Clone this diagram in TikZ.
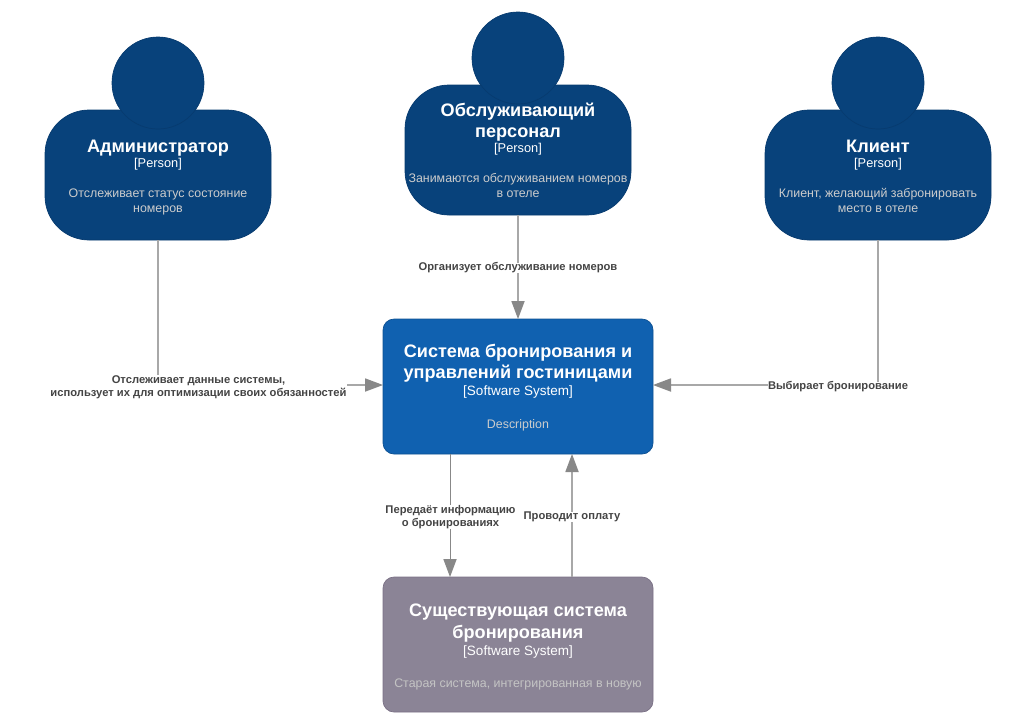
\documentclass[tikz,border=0pt]{standalone}
\usepackage{fontspec}
\setmainfont{Liberation Sans}
\usetikzlibrary{arrows.meta}
\definecolor{persona}{HTML}{08427B}
\definecolor{personb}{HTML}{073B6F}
\definecolor{sysfill}{HTML}{1061B0}
\definecolor{sysline}{HTML}{0D5091}
\definecolor{extfill}{HTML}{8B8496}
\definecolor{extline}{HTML}{7A7085}
\definecolor{descA}{HTML}{CCCCCC}
\definecolor{descB}{HTML}{C4C4C4}
\definecolor{reltext}{HTML}{444444}
\definecolor{relline}{HTML}{A8A8A8}
\definecolor{relhead}{HTML}{888888}
\tikzset{
  x=1pt,y=-1pt,
  personbody/.style={draw=personb,line width=.7pt,fill=persona,rounded corners=44pt,minimum width=226pt,minimum height=130pt,inner sep=0pt,outer sep=0pt},
  personhead/.style={circle,draw=personb,line width=.7pt,fill=persona,minimum size=92pt,inner sep=0pt,outer sep=0pt},
  sysbox/.style={draw=sysline,line width=.7pt,fill=sysfill,rounded corners=11pt,minimum width=270pt,minimum height=135pt,inner sep=0pt,outer sep=0pt},
  extbox/.style={draw=extline,line width=.7pt,fill=extfill,rounded corners=11pt,minimum width=270pt,minimum height=135pt,inner sep=0pt,outer sep=0pt},
  titletext/.style={text=white,font=\fontsize{18.1}{21}\selectfont\bfseries,anchor=base,inner sep=0pt},
  typetext/.style={text=white,font=\fontsize{12.8}{14}\selectfont,anchor=base,inner sep=0pt},
  systype/.style={text=white,font=\fontsize{13.5}{15}\selectfont,anchor=base,inner sep=0pt},
  desctext/.style={text=descA,font=\fontsize{12.4}{15}\selectfont,anchor=base,inner sep=0pt},
  rellabel/.style={text=reltext,fill=white,font=\fontsize{11.2}{13.5}\selectfont\bfseries,align=center,inner sep=0pt},
  rel/.style={draw=relline,line width=1.2pt,-{Triangle[length=18pt,width=13.5pt,line width=0pt,fill=relhead,color=relhead]}},
  reldark/.style={rel,draw=relhead,line width=1pt},
}
\begin{document}
\begin{tikzpicture}
\useasboundingbox (0,0) rectangle (1035,721);
% person shapes
\node[personbody] (admin) at (158,175) {};
\node[personhead] (adminhead) at (158,83) {};
\node[personbody] (staff) at (518,150) {};
\node[personhead] (staffhead) at (518,58) {};
\node[personbody] (client) at (878,175) {};
\node[personhead] (clienthead) at (878,83) {};
\node[sysbox] (sys) at (518,386.5) {};
\node[extbox] (ext) at (518,644.5) {};
% connectors
\draw[rel] (staff.south) -- (sys.north);
\draw[rel] (admin.south) |- ([yshift=1.5pt]sys.west);
\draw[rel] (client.south) |- ([yshift=1.5pt]sys.east);
\draw[reldark] ([xshift=-68pt]sys.south) -- ([xshift=-68pt]ext.north);
\draw[rel] ([xshift=54pt]ext.north) -- ([xshift=54pt]sys.south);
% connector labels
\node[rellabel] (l1) at (518,268) {Организует обслуживание номеров};
\node[rellabel] (l2) at (198.500,387) {Отслеживает данные системы,\\использует их для оптимизации своих обязанностей};
\node[rellabel] (l3) at (838,387) {Выбирает бронирование};
\node[rellabel] (l4) at (450.500,517) {Передаёт информацию\\о бронированиях};
\node[rellabel] (l5) at (572,517) {Проводит оплату};
% texts
\node[titletext] (t1) at (158,152) {Администратор};
\node[typetext] (t1a) at (158,167) {[Person]};
\node[desctext] (t1b) at (158,197) {Отслеживает статус состояние};
\node[desctext] (t1c) at (158,212) {номеров};
\node[titletext] (t2) at (518,116) {Обслуживающий};
\node[titletext] (t2z) at (518,137) {персонал};
\node[typetext] (t2a) at (518,152) {[Person]};
\node[desctext] (t2b) at (518,182) {Занимаются обслуживанием номеров};
\node[desctext] (t2c) at (518,197) {в отеле};
\node[titletext] (t3) at (878,152) {Клиент};
\node[typetext] (t3a) at (878,167) {[Person]};
\node[desctext] (t3b) at (878,197) {Клиент, желающий забронировать};
\node[desctext] (t3c) at (878,212) {место в отеле};
\node[titletext] (t4) at (518,357) {Система бронирования и};
\node[titletext] (t4z) at (518,378) {управлений гостиницами};
\node[systype] (t4a) at (518,395) {[Software System]};
\node[desctext] (t4b) at (518,428) {Description};
\node[titletext] (t5) at (518,616) {Существующая система};
\node[titletext] (t5z) at (518,638) {бронирования};
\node[systype] (t5a) at (518,655) {[Software System]};
\node[desctext,text=descB] (t5b) at (518,687) {Старая система, интегрированная в новую};
\end{tikzpicture}
\end{document}
